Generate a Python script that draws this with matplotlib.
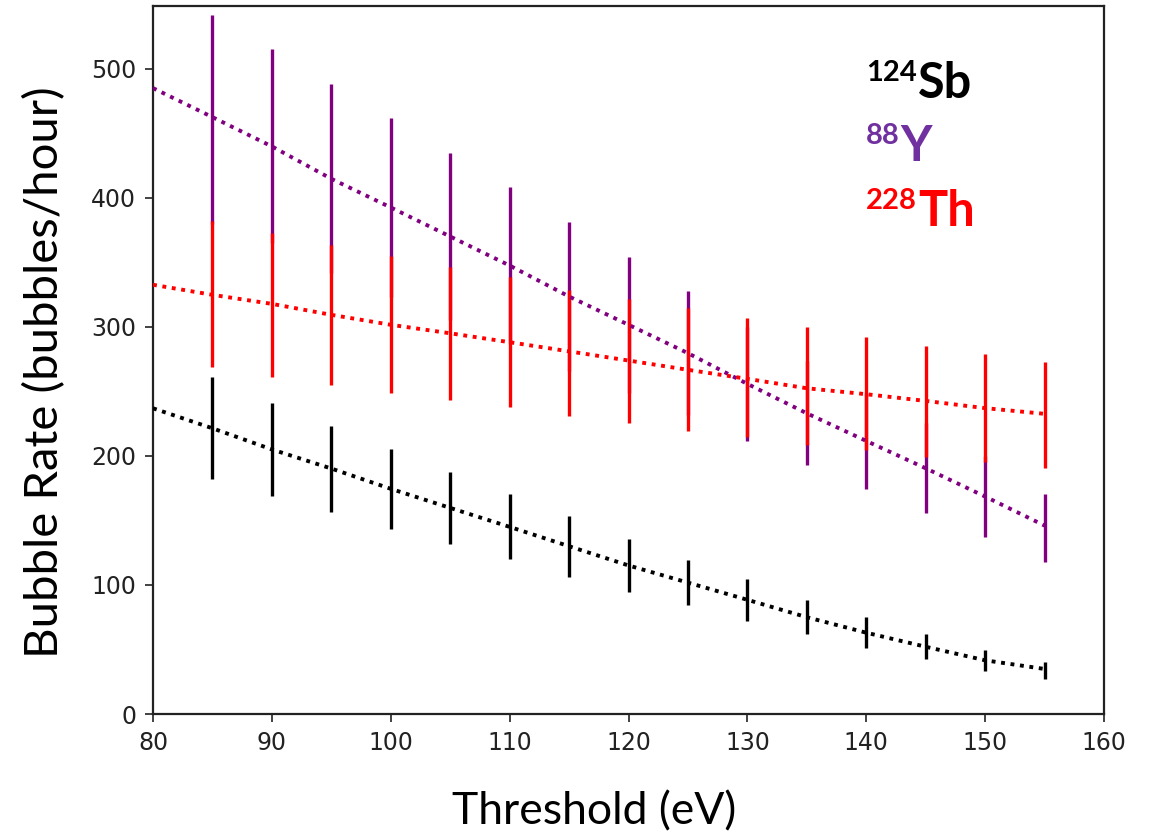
import matplotlib
matplotlib.use("Agg")
import matplotlib.pyplot as plt
import numpy as np

# Threshold points where rates were measured (eV)
thresholds = [85, 90, 95, 100, 105, 110, 115, 120, 125, 130, 135, 140, 145, 150, 155]

# Measured bubble rates and uncertainties (bubbles/hour)
sb124_rate = [221.5, 205.0, 190.2, 174.5, 159.7, 145.0, 130.0, 115.1, 101.8, 88.5, 75.0, 63.0, 52.1, 41.6, 34.0]
sb124_err = [39.3, 36.3, 33.3, 31.2, 28.2, 25.1, 23.6, 20.8, 17.6, 16.2, 13.0, 11.8, 9.7, 8.0, 6.5]

y88_rate = [461.0, 440.0, 414.7, 392.5, 370.0, 347.5, 323.5, 301.6, 279.6, 255.8, 233.0, 211.6, 190.4, 168.5, 144.2]
y88_err = [81.0, 75.0, 73.3, 69.2, 65.0, 60.5, 58.0, 52.9, 48.1, 43.9, 40.2, 36.9, 34.9, 31.1, 26.1]

th228_rate = [325.2, 316.8, 309.3, 302.0, 294.7, 288.0, 280.0, 273.5, 267.0, 260.9, 254.2, 248.4, 242.2, 237.0, 232.0]
th228_err = [56.5, 55.9, 54.3, 52.9, 51.3, 50.5, 48.7, 48.2, 47.5, 45.9, 45.4, 43.7, 42.7, 41.8, 41.0]

# Fitted trend curves
fit_x = [80, 85, 90, 95, 100, 105, 110, 115, 120, 125, 130, 135, 140, 145, 150, 155]
sb124_fit = [236.9, 221.4, 205.0, 190.2, 174.5, 159.7, 145.0, 130.0, 115.1, 101.8, 88.5, 75.0, 63.0, 52.1, 41.6, 34.9]
y88_fit = [485.0, 462.5, 439.8, 414.7, 392.5, 370.0, 347.5, 323.5, 301.6, 279.6, 255.8, 233.0, 211.6, 190.4, 168.5, 146.0]
th228_fit = [332.6, 324.8, 317.8, 309.3, 301.6, 295.0, 288.1, 281.0, 273.9, 266.7, 259.7, 252.4, 247.8, 242.6, 237.0, 232.6]

W, H = 1154, 840
fig = plt.figure(figsize=(W / 100, H / 100), dpi=100)
ax = fig.add_axes([153 / W, 1 - 714 / H, (1104 - 153) / W, (714 - 5.5) / H])

dot = (0, (1, 1.45))
lw_fit = 2.8
ew = 2.4
ax.errorbar(thresholds, y88_rate, yerr=y88_err, fmt="none", ecolor="#800080", elinewidth=ew, zorder=2)
ax.errorbar(thresholds, th228_rate, yerr=th228_err, fmt="none", ecolor="#ff0000", elinewidth=ew, zorder=3)
ax.errorbar(thresholds, sb124_rate, yerr=sb124_err, fmt="none", ecolor="#000000", elinewidth=ew, zorder=3)

ax.plot(fit_x, y88_fit, color="#800080", linestyle=dot, linewidth=lw_fit, zorder=4)
ax.plot(fit_x, th228_fit, color="#ff0000", linestyle=dot, linewidth=lw_fit, zorder=4)
ax.plot(fit_x, sb124_fit, color="#000000", linestyle=dot, linewidth=lw_fit, zorder=4)

ax.set_xlim(80, 160)
ax.set_ylim(0, 549)
ax.set_xticks(np.arange(80, 161, 10))
ax.set_yticks(np.arange(0, 501, 100))
ax.tick_params(axis="both", direction="out", length=6, width=1.2, labelsize=17,
               colors="#222222", pad=6)
for s in ax.spines.values():
    s.set_linewidth(1.6)
    s.set_color("#222222")

label_font = ["Lato", "DejaVu Sans"]
fig.text(594 / W, 1 - 812 / H, "Threshold (eV)", ha="center", va="center",
         fontsize=32, family=label_font)
fig.text(45 / W, 1 - 372 / H, "Bubble Rate (bubbles/hour)", ha="center", va="center",
         rotation=90, fontsize=34, family=label_font)

# Isotope labels with superscripted mass numbers
renderer = fig.canvas.get_renderer()
isotopes = [("124", "Sb", "#000000", 98), ("88", "Y", "#7030a0", 161), ("228", "Th", "#ff0000", 226)]
for mass, sym, col, base in isotopes:
    t1 = fig.text(866 / W, 1 - (base - 17) / H, mass, fontsize=21, fontweight="bold",
                  color=col, family=label_font, ha="left", va="baseline")
    bb = t1.get_window_extent(renderer)
    fig.text(bb.x1 / W + 1 / W, 1 - base / H, sym, fontsize=35, fontweight="bold",
             color=col, family=label_font, ha="left", va="baseline")

fig.savefig("out.png", dpi=100, facecolor="white")
